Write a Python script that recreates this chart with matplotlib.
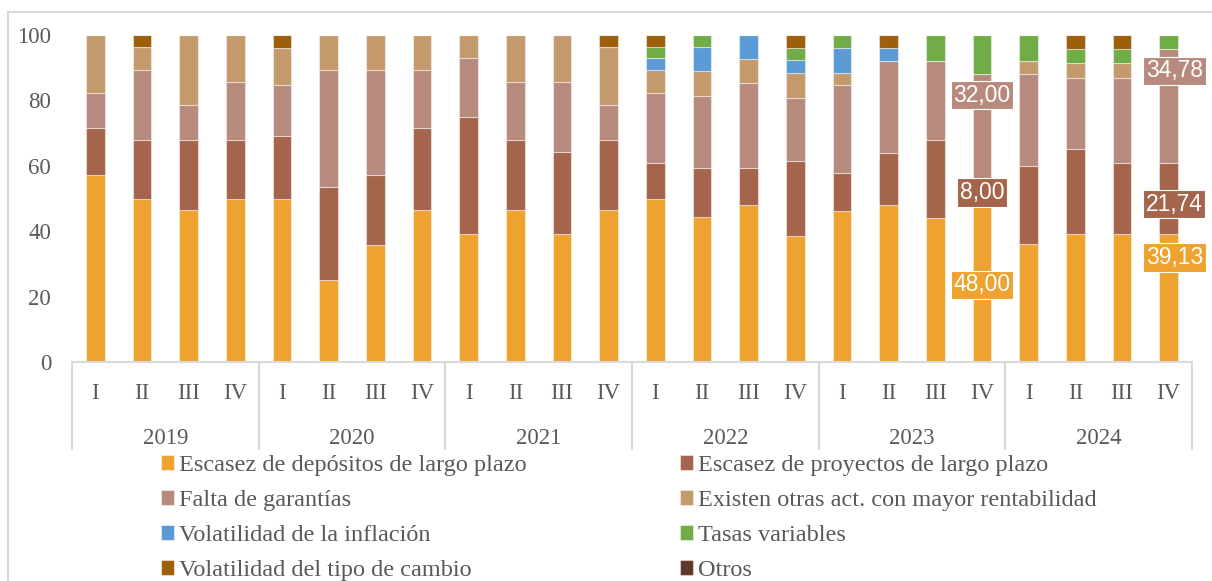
import matplotlib
matplotlib.use("Agg")
import matplotlib.pyplot as plt
import numpy as np
from matplotlib.lines import Line2D

# DATA
# ///////////////////////////////////////////////////////////////
years = ["2019", "2020", "2021", "2022", "2023", "2024"]
quarters = ["I", "II", "III", "IV"]

series_names = [
    "Escasez de depósitos de largo plazo",
    "Escasez de proyectos de largo plazo",
    "Falta de garantías",
    "Existen otras act. con mayor rentabilidad",
    "Volatilidad de la inflación",
    "Tasas variables",
    "Volatilidad del tipo de cambio",
    "Otros",
]

depositos = [57.14, 50.00, 46.43, 50.00, 50.00, 25.00, 35.71, 46.43,
             39.29, 46.43, 39.29, 46.43, 50.00, 44.44, 48.15, 38.46,
             46.15, 48.00, 44.00, 48.00, 36.00, 39.13, 39.13, 39.13]
proyectos = [14.29, 17.86, 21.43, 17.86, 19.23, 28.57, 21.43, 25.00,
             35.71, 21.43, 25.00, 21.43, 10.71, 14.81, 11.11, 23.08,
             11.54, 16.00, 24.00, 8.00, 24.00, 26.09, 21.74, 21.74]
garantias = [10.71, 21.43, 10.71, 17.86, 15.38, 35.71, 32.14, 17.86,
             17.86, 17.86, 21.43, 10.71, 21.43, 22.22, 25.93, 19.23,
             26.92, 28.00, 24.00, 32.00, 28.00, 21.74, 26.09, 34.78]
otras_act = [17.86, 7.14, 21.43, 14.29, 11.54, 10.71, 10.71, 10.71,
             7.14, 14.29, 14.29, 17.86, 7.14, 7.41, 7.41, 7.69,
             3.85, 0.00, 0.00, 0.00, 4.00, 4.35, 4.35, 0.00]
inflacion = [0, 0, 0, 0, 0, 0, 0, 0,
             0, 0, 0, 0, 3.57, 7.41, 7.41, 3.85,
             7.69, 4.00, 0, 0, 0, 0, 0, 0]
tasas = [0, 0, 0, 0, 0, 0, 0, 0,
         0, 0, 0, 0, 3.57, 3.70, 0, 3.85,
         3.85, 0, 8.00, 12.00, 8.00, 4.35, 4.35, 4.35]
tipo_cambio = [0, 3.57, 0, 0, 3.85, 0, 0, 0,
               0, 0, 0, 3.57, 3.57, 0, 0, 3.85,
               0, 4.00, 0, 0, 0, 4.35, 4.35, 0]
otros = [0] * 24

colors = ["#EEA22F", "#A5644C", "#B88A7E", "#C49A6C",
          "#5B9BD5", "#70AD47", "#9E5F0C", "#603829"]

# bars that carry value labels (index, series)
labelled_bars = [19, 23]
labelled_series = [0, 1, 2]
# where each label sits (y in data units), per bar
label_y = {19: [23.6, 51.8, 81.6], 23: [31.9, 48.3, 89.0]}
label_dx = {19: 0.0, 23: 0.12}

# PLOT
# ///////////////////////////////////////////////////////////////
text_color = "#595959"
grid_color = "#D9D9D9"
plt.rcParams['font.family'] = ['Liberation Serif', 'DejaVu Serif']

fig = plt.figure(figsize=(12.12, 5.81), dpi=100)
ax = fig.add_axes([72 / 1212, (581 - 362) / 581, 1120 / 1212, 327 / 581])

data = np.array([depositos, proyectos, garantias, otras_act,
                 inflacion, tasas, tipo_cambio, otros], dtype=float)
x = np.arange(data.shape[1])
bottom = np.zeros(data.shape[1])
for vals, name, col in zip(data, series_names, colors):
    ax.bar(x, vals, bottom=bottom, width=0.4, color=col,
           edgecolor=(1, 1, 1, 0.45), linewidth=0.8, label=name)
    bottom += vals

# value labels
for b in labelled_bars:
    for s, yy in zip(labelled_series, label_y[b]):
        txt = f"{data[s, b]:.2f}".replace(".", ",")
        ax.text(b + label_dx[b], yy, txt, ha="center", va="center",
                color="white", fontsize=16.5, family=["Liberation Sans"],
                bbox=dict(boxstyle="square,pad=0.12", fc=colors[s],
                          ec="white", lw=0.8))

ax.set_xlim(-0.5, len(x) - 0.5)
ax.set_ylim(0, 100)
ax.set_yticks([0, 20, 40, 60, 80, 100])
ax.tick_params(axis="y", length=0, pad=15, labelsize=16.5, labelcolor=text_color)
ax.set_xticks([])
for sp in ["top", "right", "left"]:
    ax.spines[sp].set_visible(False)
ax.spines["bottom"].set_color(grid_color)
ax.spines["bottom"].set_linewidth(1.5)

# multi-level category axis
trans = ax.get_xaxis_transform()
for i in x:
    ax.text(i, -0.095, quarters[i % 4], transform=trans, ha="center",
            va="center", fontsize=16.5, color=text_color)
for j, yr in enumerate(years):
    ax.text(j * 4 + 1.5, -0.235, yr, transform=trans, ha="center",
            va="center", fontsize=16.5, color=text_color)
for k in range(len(years) + 1):
    ax.add_line(Line2D([k * 4 - 0.5, k * 4 - 0.5], [0, -0.266],
                       transform=trans, color=grid_color, lw=1.5,
                       clip_on=False))

# legend, filled row by row
handles, labels = ax.get_legend_handles_labels()
order = [0, 2, 4, 6, 1, 3, 5, 7]
leg = fig.legend([handles[i] for i in order], [labels[i] for i in order],
                 ncol=2, loc="upper left", bbox_to_anchor=(161 / 1212, 1 - 455 / 581),
                 frameon=False, fontsize=17.5, handlelength=0.55, handleheight=0.55,
                 handletextpad=0.2, columnspacing=6.3, labelspacing=0.58,
                 borderaxespad=0, borderpad=0)
for t in leg.get_texts():
    t.set_color(text_color)

# outer chart frame (top and left edges visible)
fig.add_artist(Line2D([8 / 1212, 1], [1 - 12 / 581, 1 - 12 / 581],
                      transform=fig.transFigure, color=grid_color, lw=1.5))
fig.add_artist(Line2D([8 / 1212, 8 / 1212], [0, 1 - 12 / 581],
                      transform=fig.transFigure, color=grid_color, lw=1.5))

fig.savefig("out.png", dpi=100, facecolor="white")
